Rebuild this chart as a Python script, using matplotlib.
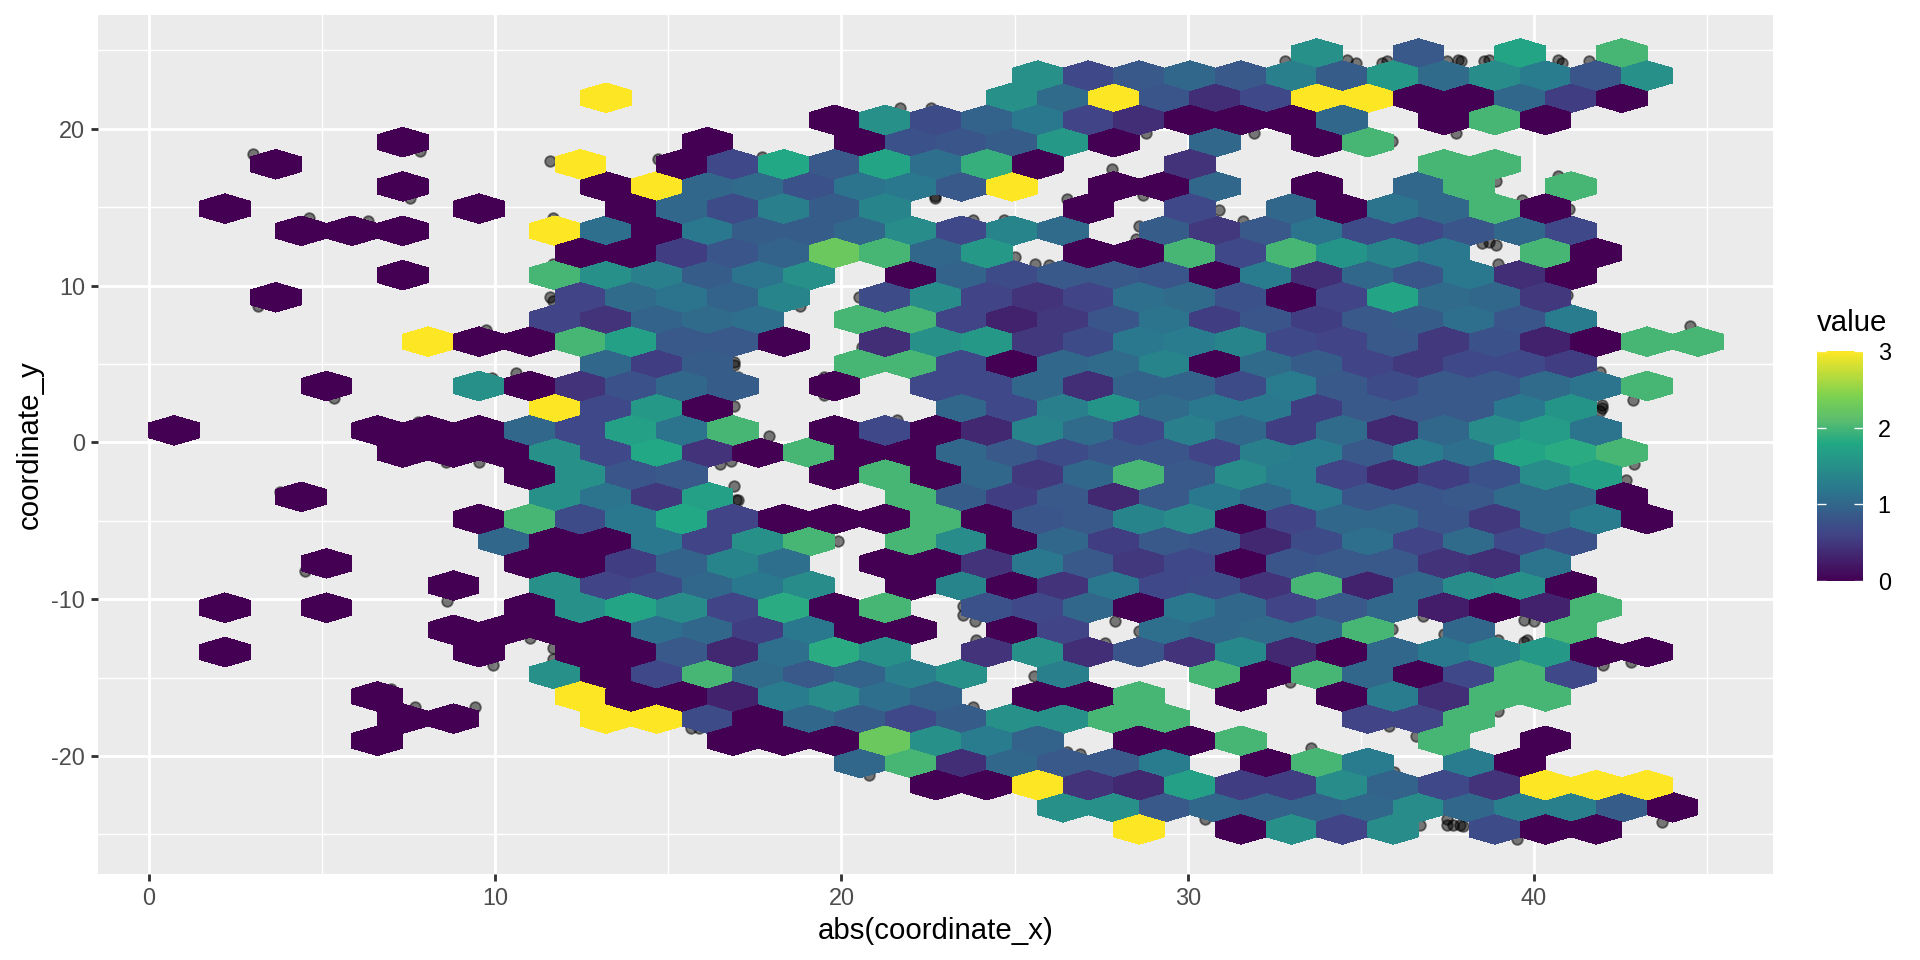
import matplotlib
matplotlib.use("Agg")
import matplotlib.pyplot as plt
from matplotlib.colors import LinearSegmentedColormap

plt.rcParams['font.family'] = ['Liberation Sans', 'DejaVu Sans']
plt.rcParams['axes.unicode_minus'] = False

# hex cells, one pair of lists per row: column index and value
c_p17 = [46, 50, 54, 58]
v_p17 = [1.5, .85, 1.75, 2]
c_p16 = [35, 37, 39, 41, 43, 45, 47, 49, 51, 53, 55, 57, 59]
v_p16 = [1.5, .65, .85, 1, .85, 1.3, .9, 1.6, 1.05, 1.45, 1.25, .8, 1.5]
c_p15 = [18, 34, 36, 38, 40, 42, 44, 46, 48, 50, 52, 54, 56, 58]
v_p15 = [3, 1.5, 1.05, 3, .8, .4, .65, 3, 3, 0, 0, 1, .55, 0]
c_p14 = [27, 29, 31, 33, 35, 37, 39, 41, 43, 45, 47, 51, 53, 55]
v_p14 = [0, 1.5, .7, .95, 1.2, .6, .4, 0, 0, 0, 1, 0, 2, 0]
c_p13 = [10, 22, 28, 30, 32, 34, 36, 38, 42, 46, 48]
v_p13 = [0, 0, 0, .75, .8, .9, 1.6, 0, 1, 0, 2]
c_p12 = [5, 17, 21, 23, 25, 27, 29, 31, 33, 35, 41, 51, 53]
v_p12 = [0, 3, 0, .65, 1.8, .85, 1.75, 1.1, 1.9, 0, .45, 2, 2]
c_p11 = [10, 18, 20, 22, 24, 26, 28, 30, 32, 34, 38, 40, 42, 46, 50, 52, 56]
v_p11 = [0, 0, 3, 1, 1.05, .75, 1.15, 1.2, .85, 3, 0, 0, 1, 0, 1, 2, 2]
c_p10 = [3, 13, 19, 21, 23, 25, 27, 29, 37, 41, 45, 47, 49, 51, 53, 55]
v_p10 = [0, 0, 0, 1, .7, 1.3, .9, 1.35, 0, .65, 1, 0, 1.15, 1, 2, 0]
c_p09 = [6, 8, 10, 16, 18, 20, 22, 24, 26, 28, 30, 32, 34, 36, 40, 42, 44, 46, 48, 50, 52, 54, 56]
v_p09 = [0, 0, 0, 3, 1.1, 0, 1.2, .9, .9, 1, 1.45, .65, 1.35, 1.05, .9, .5, .85, 1.15, .7, .65, .8, 1, .65]
c_p08 = [17, 19, 21, 23, 25, 27, 29, 31, 33, 37, 39, 41, 43, 45, 47, 49, 51, 55, 57]
v_p08 = [0, 0, .55, .8, .95, 2.25, 2, 1, 1.6, 0, 0, 2, .65, 2, 1.55, 1.35, 1.2, 2, 0]
c_p07 = [10, 16, 18, 20, 22, 24, 26, 30, 32, 34, 36, 38, 40, 42, 44, 46, 48, 50, 52, 54, 56]
v_p07 = [0, 2, 1.5, 1.3, .9, 1.15, 1.5, 0, .95, .7, .85, .85, .8, 0, 1.25, .4, 1, .8, 1.2, .4, 0]
c_p06 = [5, 17, 19, 21, 23, 25, 29, 31, 33, 35, 37, 39, 41, 43, 45, 47, 49, 51, 53, 55]
v_p06 = [0, .6, 1.05, 1.15, .95, 1.35, .7, 1.45, .6, .45, .6, 1.1, 1.05, .75, 0, .6, 1.75, 1.05, 1, .5]
c_p05 = [16, 18, 20, 22, 24, 28, 30, 32, 34, 36, 38, 40, 42, 44, 46, 48, 50, 52, 54, 56]
v_p05 = [.6, .45, .95, 1.05, 1.1, 2, 2, .6, .3, .5, .8, 1.15, .55, .8, .55, .85, .9, 1.1, .8, 1.25]
c_p04 = [11, 13, 15, 17, 19, 21, 23, 25, 29, 31, 33, 35, 37, 39, 41, 43, 45, 47, 49, 51, 53, 55, 57, 59, 61]
v_p04 = [3, 0, 0, 2, 1.7, .85, .85, 0, .4, 1.5, 1.6, .5, .7, 1.2, 1.25, 1.35, .65, .6, .85, .5, .75, .3, 0, 2, 2]
c_p03 = [18, 20, 22, 28, 30, 32, 34, 36, 38, 40, 42, 44, 46, 48, 50, 52, 54, 56]
v_p03 = [1, .55, .9, 2, 2, .65, 0, 1, 1.05, 1.35, 0, 1.05, .9, .6, .5, .65, .65, .55]
c_p02 = [7, 13, 15, 17, 19, 21, 23, 27, 31, 33, 35, 37, 39, 41, 43, 45, 47, 49, 51, 53, 55, 57, 59]
v_p02 = [0, 1.5, 0, .45, .75, 1, .9, 0, .65, .65, 1, .4, .95, .95, .7, 1.25, .85, .7, .85, .85, 1.05, 1.15, 2]
c_p01 = [16, 18, 20, 22, 32, 34, 36, 38, 40, 42, 44, 46, 48, 50, 52, 54, 56]
v_p01 = [3, .65, 1.6, 0, 1, .65, 1.3, 1.55, 1.05, 1.2, 1.2, .55, .85, .85, .85, 1.2, 1.55]
c_z00 = [1, 9, 11, 13, 15, 17, 19, 21, 23, 27, 29, 31, 33, 35, 37, 39, 41, 43, 45, 47, 49, 51, 53, 55, 57]
v_z00 = [0, 0, 0, 0, 1, .65, 1.7, 1.15, 2, 0, .65, 0, .35, 1.35, 1.05, .65, 1.3, 1, .55, 1.05, .35, 1, 1.45, 1.65, 1.15]
c_m01 = [10, 12, 14, 16, 18, 20, 22, 24, 26, 28, 30, 32, 34, 36, 38, 40, 42, 44, 46, 48, 50, 52, 54, 56, 58]
v_m01 = [0, 0, 0, 1.5, .65, 1.8, .45, 0, 2, 0, 0, 1, .85, .7, .8, .8, .6, 1.3, 1.25, .85, 1.25, 1.1, 1.75, 1.85, 2]
c_m02 = [15, 17, 19, 21, 27, 29, 31, 33, 35, 37, 39, 41, 43, 45, 47, 49, 51, 53, 55, 57]
v_m02 = [0, 1.5, .8, .85, 0, 2, 0, 1, .5, 1, 2, .85, 1.45, 1.25, .6, .35, .55, .75, 1.45, 1.7]
c_m03 = [6, 16, 18, 20, 22, 30, 32, 34, 36, 38, 40, 42, 44, 46, 48, 50, 52, 54, 56, 58]
v_m03 = [0, 1.5, 1.15, .5, 1.7, 2, .9, .55, .85, .35, .85, 1.2, 1, 1.25, .8, .8, .85, 1.05, 1.05, 0]
c_m04 = [13, 15, 17, 19, 21, 23, 25, 27, 29, 31, 33, 35, 37, 39, 41, 43, 45, 47, 49, 51, 53, 55, 57, 59]
v_m04 = [0, 2, .7, 1.2, 1.8, .6, 0, 0, 0, 2, 0, .8, .85, 1.35, 1.45, 0, .6, 1, 1, .8, .5, 1.05, 1.25, 0]
c_m05 = [14, 16, 18, 20, 22, 24, 26, 30, 32, 34, 36, 38, 40, 42, 44, 46, 48, 50, 52, 54, 56]
v_m05 = [1, 0, 0, 1.2, .6, 1.5, 2, 2, 1.45, 0, 1, .55, .85, .8, .35, .7, 1.1, .6, 1.05, .65, .75]
c_m06 = [7, 15, 17, 19, 21, 23, 25, 29, 31, 33, 35, 37, 39, 41, 43, 45, 47, 49, 51, 53, 55]
v_m06 = [0, 0, 0, .55, .95, 1.35, 1.1, 0, 0, .45, 1.2, .85, .5, .65, 0, .8, .85, .85, .45, .4, 1.15]
c_m07 = [12, 16, 18, 20, 22, 24, 26, 30, 32, 34, 36, 38, 40, 42, 44, 46, 48, 50, 52, 54, 56]
v_m07 = [0, 1.5, .6, .7, 1, 1.2, 1.45, 0, 1.35, 0, .45, 1.2, .65, .7, .45, 2, .3, 1, 1.45, 1.5, 0]
c_m08 = [3, 7, 15, 17, 19, 21, 23, 25, 27, 29, 33, 35, 37, 39, 41, 43, 45, 47, 49, 51, 53, 55, 57]
v_m08 = [0, 0, 0, 1.5, 1.75, 1.45, .6, 1.85, 0, 2, .75, .65, 1, 0, 1.2, 1, .6, .85, 1, .25, 0, .3, 2]
c_m09 = [12, 14, 16, 18, 20, 22, 24, 26, 28, 30, 34, 36, 40, 42, 44, 46, 48, 52, 56]
v_m09 = [0, 0, 0, 0, 1.1, 1, .55, 1.2, 0, 0, 0, .6, 1.1, 1, 1.05, 1.05, 2, 1, 2]
c_m10 = [3, 13, 17, 19, 21, 23, 25, 27, 29, 33, 35, 37, 39, 41, 43, 45, 47, 49, 51, 53, 55, 57, 59]
v_m10 = [0, 0, 0, 0, .85, .35, 1.1, 1.85, 1.5, .45, 1.5, .4, .8, .45, 1.4, .35, 0, 1, 1.2, 1.35, 1.6, 0, 0]
c_m11 = [16, 18, 20, 22, 24, 26, 28, 30, 32, 36, 42, 44, 46, 48, 50, 52, 54, 56]
v_m11 = [1.5, 0, .65, 2, 1.05, .85, .95, 1.3, 1.5, 1.3, 2, 0, 2, 1, 0, .65, 2, .65]
c_m12 = [9, 17, 19, 21, 23, 25, 27, 29, 31, 35, 37, 39, 43, 47, 49, 51, 53, 55]
v_m12 = [0, 3, 0, 0, .3, 1.25, 1.45, 1.1, .95, 0, 0, 2, 0, 0, 1.25, .4, 2, 2]
c_m13 = [10, 12, 18, 20, 22, 24, 26, 28, 30, 32, 34, 36, 38, 40, 48, 50, 52]
v_m13 = [0, 0, 3, 3, .7, 0, 1, .9, .65, .9, 1.5, 1.5, 2, 2, .6, .6, 2]
c_m14 = [9, 23, 25, 27, 29, 31, 33, 35, 39, 41, 43, 51, 55]
v_m14 = [0, 0, 0, 0, 2.25, 1.5, 1.25, .95, 0, 0, 2, 2, 0]
c_m15 = [28, 30, 32, 34, 36, 38, 40, 44, 46, 48, 52, 54]
v_m15 = [1, 2, .4, 1, .85, .85, 1.25, 0, 2, 1.25, 1.25, 0]
c_m16 = [31, 33, 35, 37, 39, 41, 43, 45, 47, 49, 51, 53, 55, 57, 59]
v_m16 = [0, 0, 3, .45, .35, 1.7, .55, .55, 1.45, .95, .65, .45, 3, 3, 3]
c_m17 = [36, 38, 40, 42, 44, 46, 48, 50, 52, 54, 56, 58, 60]
v_m17 = [1.5, 1.5, .85, 1, .95, .95, 1, 1.45, 1, 1.3, 1.3, .9, 0]
c_m18 = [39, 43, 45, 47, 49, 53, 55, 57]
v_m18 = [3, 0, 1.5, .6, 1.45, .7, 0, 0]

# raw points, most of them are hidden behind the hexagons
point_x = [3.0, 7.83, 7.54, 4.63, 6.34, 3.16, 11.6, 14.7, 11.66, 11.66, 11.6, 11.67, 9.74, 10.6, 9.9,
           5.35, 7.76, 8.58, 9.54, 17.7, 21.7, 22.6, 28.8, 27.8, 22.7, 22.7, 26.5, 28.7, 23.8, 24.7,
           30.9, 31.6, 28.6, 28.5, 25.0, 25.6, 26.0, 20.5, 18.8, 20.6, 16.9, 16.9, 17.0, 19.5, 19.5,
           16.9, 17.9, 21.6, 16.5, 16.8, 32.8, 34.6, 31.9, 34.85, 35.6, 35.75, 37.5, 37.8, 37.9, 38.7,
           38.55, 40.7, 40.8, 41.6, 37.75, 35.9, 38.9, 39.65, 40.7, 41.0, 38.5, 38.7, 38.9, 38.95, 40.95,
           44.5, 41.9, 41.97, 41.97, 41.9, 42.85, 42.9, 42.65, 3.8, 4.5, 8.6, 9.95, 11.0, 11.67, 11.67,
           7.0, 7.7, 9.43, 15.67, 15.9, 16.9, 17.0, 16.95, 19.9, 20.8, 23.8, 25.55, 23.5, 23.5, 23.85,
           23.9, 27.9, 28.6, 27.6, 26.5, 26.9, 33.55, 32.95, 30.5, 36.8, 35.9, 37.4, 39.7, 40.0, 39.8,
           39.7, 38.95, 42.0, 42.8, 38.95, 35.8, 36.6, 35.95, 43.7, 39.5, 36.7, 37.5, 37.65, 37.85, 37.95, 37.5]
point_y = [18.4, 18.55, 15.6, 14.3, 14.1, 8.7, 17.95, 18.1, 14.3, 11.4, 9.25, 9.0, 7.15, 4.4, 4.1,
           2.8, 1.3, -1.25, -1.25, 18.2, 21.3, 21.3, 19.75, 17.4, 15.6, 15.7, 15.5, 15.8, 14.2, 14.2,
           14.8, 14.1, 13.8, 13.0, 11.8, 11.4, 11.3, 9.3, 8.7, 6.1, 5.15, 4.95, 4.2, 4.2, 3.0,
           2.3, 0.4, 1.4, -1.4, -1.2, 24.3, 24.4, 19.75, 24.2, 24.2, 24.3, 24.3, 24.4, 24.3, 24.4,
           24.3, 24.4, 24.2, 24.3, 19.7, 19.2, 16.65, 15.45, 17.0, 14.9, 12.7, 12.8, 12.6, 11.4, 9.4,
           7.4, 4.5, 2.4, 2.2, 2.0, 2.7, -1.35, -2.4, -3.15, -8.2, -10.1, -14.2, -12.5, -13.1, -13.8,
           -15.7, -16.9, -16.9, -18.2, -18.2, -2.8, -3.7, -3.65, -6.3, -21.2, -16.9, -14.9, -10.4, -11.0, -11.4,
           -12.6, -11.4, -12.0, -12.8, -19.75, -19.85, -19.5, -15.3, -24.0, -11.1, -11.9, -12.2, -11.35, -11.4, -12.6,
           -12.7, -12.6, -14.2, -14.0, -17.15, -18.1, -18.7, -21.0, -24.2, -25.3, -24.4, -24.4, -24.4, -24.4, -24.45, -24.0]

x_ticks = [0, 10, 20, 30, 40]
y_ticks = [-20, -10, 0, 10, 20]
bar_ticks = [0, 1, 2, 3]

# lattice of the hexagons
col_step = 0.7333
row_step = 1.4137
row_zero = 0.767

rows = [(17, c_p17, v_p17), (16, c_p16, v_p16), (15, c_p15, v_p15), (14, c_p14, v_p14),
        (13, c_p13, v_p13), (12, c_p12, v_p12), (11, c_p11, v_p11), (10, c_p10, v_p10),
        (9, c_p09, v_p09), (8, c_p08, v_p08), (7, c_p07, v_p07), (6, c_p06, v_p06),
        (5, c_p05, v_p05), (4, c_p04, v_p04), (3, c_p03, v_p03), (2, c_p02, v_p02),
        (1, c_p01, v_p01), (0, c_z00, v_z00), (-1, c_m01, v_m01), (-2, c_m02, v_m02),
        (-3, c_m03, v_m03), (-4, c_m04, v_m04), (-5, c_m05, v_m05), (-6, c_m06, v_m06),
        (-7, c_m07, v_m07), (-8, c_m08, v_m08), (-9, c_m09, v_m09), (-10, c_m10, v_m10),
        (-11, c_m11, v_m11), (-12, c_m12, v_m12), (-13, c_m13, v_m13), (-14, c_m14, v_m14),
        (-15, c_m15, v_m15), (-16, c_m16, v_m16), (-17, c_m17, v_m17), (-18, c_m18, v_m18)]

hex_x = []
hex_y = []
hex_v = []
for row, cols, vals in rows:
    for col, val in zip(cols, vals):
        hex_x.append(col * col_step)
        hex_y.append(row_zero + row * row_step)
        hex_v.append(val)

# same stops as scale_fill_viridis_c, extra one because R blends them in Lab
viridis6 = LinearSegmentedColormap.from_list(
    "viridis6", [(0, "#440154"), (0.2, "#414487"), (0.4, "#2A788E"), (0.6, "#22A884"),
                 (0.7, "#5ABD6E"), (0.8, "#7AD151"), (1, "#FDE725")])

fig = plt.figure(figsize=(10, 5), dpi=192)
ax = fig.add_axes([98.2 / 1920, 1 - 873.7 / 960, (1773 - 98.2) / 1920, (873.7 - 14.7) / 960])
ax.set_facecolor("#EBEBEB")
for side in ax.spines.values():
    side.set_visible(False)

ax.scatter(point_x, point_y, s=16, color="black", alpha=0.5, linewidths=0.7, zorder=2)

y_bottom = row_zero - 19 * row_step
hb = ax.hexbin(hex_x, hex_y, C=hex_v, gridsize=(31, 18), cmap=viridis6, vmin=0, vmax=3,
               extent=(0, 31 * 2 * col_step, y_bottom, y_bottom + 18 * 2 * row_step),
               linewidths=0, edgecolors="none", zorder=3)
hb.set_antialiased(False)  # the reference has hard pixel edges and no seams

ax.set_xlim(-1.46, 46.9)
ax.set_ylim(-27.5, 27.27)
ax.set_xticks(x_ticks)
ax.set_yticks(y_ticks)
ax.set_xticks([5, 15, 25, 35, 45], minor=True)
ax.set_yticks([-25, -15, -5, 5, 15, 25], minor=True)
ax.grid(True, which="major", color="white", linewidth=1.07, zorder=1)
ax.grid(True, which="minor", color="white", linewidth=0.53, zorder=1)
ax.set_axisbelow(True)
ax.tick_params(which="minor", length=0)
ax.tick_params(which="major", length=2.75, width=1.07, color="#333333",
               labelcolor="#4D4D4D", labelsize=8.8, pad=2.2)
ax.set_xlabel("abs(coordinate_x)", fontsize=11, labelpad=2.75)
ax.set_ylabel("coordinate_y", fontsize=11, labelpad=2.75)

# legend
cax = fig.add_axes([1817 / 1920, 1 - 580.7 / 960, 46 / 1920, 229.7 / 960])
cbar = fig.colorbar(hb, cax=cax, ticks=bar_ticks)
cbar.outline.set_visible(False)
cax.tick_params(left=True, right=True, direction="in", length=3.4, width=0.5, color="white",
                labelsize=8.8, pad=5.5)
fig.text(1817 / 1920, 1 - 323 / 960, "value", fontsize=11, ha="left", va="center")

fig.savefig("out.png", dpi=192)
